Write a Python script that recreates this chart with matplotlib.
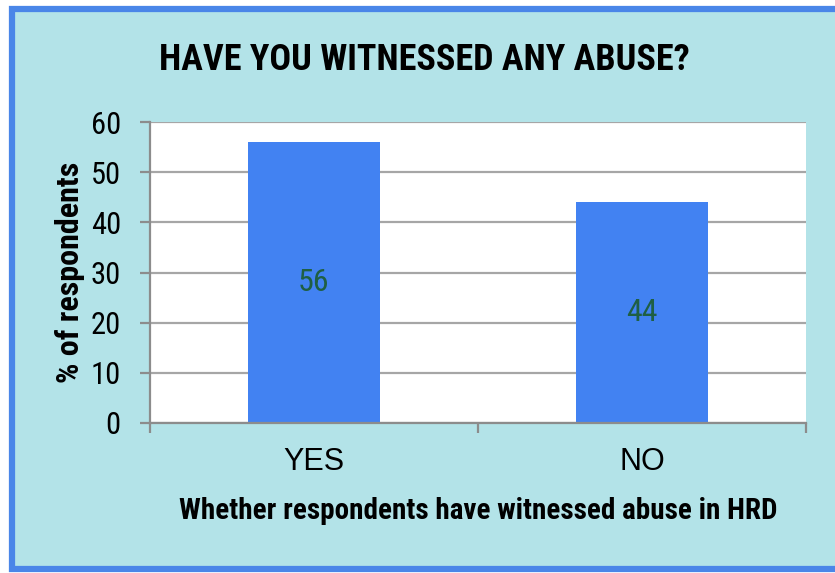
import matplotlib.pyplot as plt
from matplotlib.patches import Rectangle

categories = ["YES", "NO"]
percent = [56, 44]

title = "HAVE YOU WITNESSED ANY ABUSE?"
x_title = "Whether respondents have witnessed abuse in HRD"
y_title = "% of respondents"

narrow = ["Roboto Condensed", "Liberation Sans Narrow", "Liberation Sans", "DejaVu Sans"]
wide = ["Liberation Sans", "DejaVu Sans"]
plt.rcParams["font.family"] = narrow

W, H = 835, 573
fig = plt.figure(figsize=(W / 100, H / 100), dpi=100)
fig.patch.set_facecolor("white")

# panel background with blue frame, behind the chart axes
bg = fig.add_axes([0, 0, 1, 1], zorder=-1)
bg.set_xlim(0, W)
bg.set_ylim(H, 0)
bg.axis("off")
bg.add_patch(Rectangle((12, 9), 900, 560, facecolor="#b3e3e8", edgecolor="#4a86e8",
                       linewidth=4.5))

ax = fig.add_axes([150 / W, 1 - 423 / H, 656 / W, 301 / H])
ax.set_facecolor("white")
ax.set_xlim(-0.5, 1.5)
ax.set_ylim(0, 60)

bars = ax.bar(range(len(categories)), percent, width=0.4, color="#4282f2", zorder=2)
for b, v in zip(bars, percent):
    ax.text(b.get_x() + b.get_width() / 2, v / 2, str(v), ha="center", va="center",
            fontsize=23, color="#1f5f44", zorder=3)

ax.set_yticks(range(0, 61, 10))
ax.yaxis.grid(True, color="#a6a6a6", linewidth=1.6, zorder=1)
ax.set_axisbelow(True)
ax.set_xticks(range(len(categories)))
ax.set_xticklabels(categories, family=wide)
ax.set_xticks([-0.5, 0.5, 1.5], minor=True)
ax.tick_params(axis="x", which="major", length=0, pad=17, labelsize=22)
ax.tick_params(axis="x", which="minor", length=7, width=1.6, color="#8c8c8c")
ax.tick_params(axis="y", length=7, width=1.6, color="#8c8c8c", pad=14, labelsize=22)

for s in ["top", "right"]:
    ax.spines[s].set_visible(False)
for s in ["left", "bottom"]:
    ax.spines[s].set_color("#8c8c8c")
    ax.spines[s].set_linewidth(1.6)

ax.set_xlabel(x_title, fontsize=21, fontweight="bold", labelpad=15)
ax.set_ylabel(y_title, fontsize=23, fontweight="bold", labelpad=4)

fig.text(424 / W, 1 - 60 / H, title, ha="center", va="center", fontsize=26,
         fontweight="bold")

fig.savefig("out.png", dpi=100)
